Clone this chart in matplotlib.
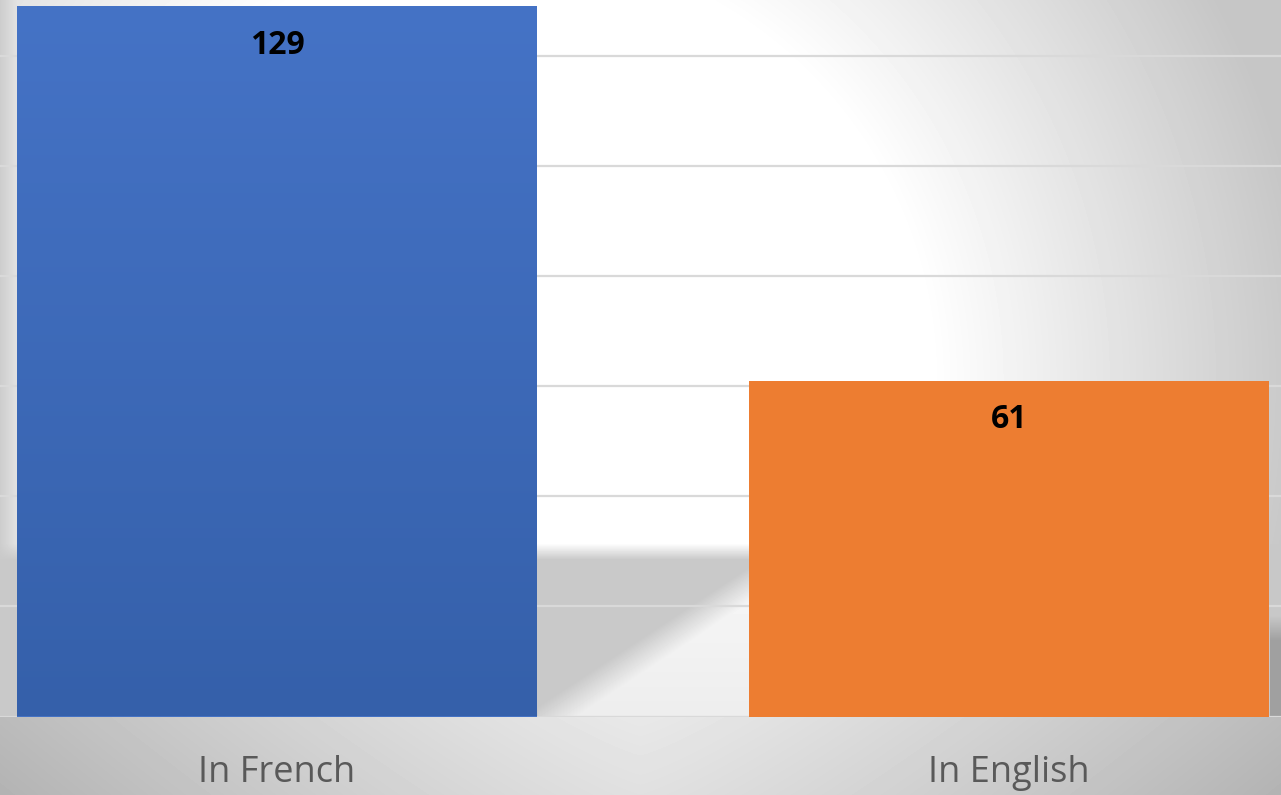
import numpy as np
import matplotlib.pyplot as plt
from matplotlib.colors import LinearSegmentedColormap

categories = ["In French", "In English"]
counts = [129, 61]

W, H = 1281, 795

# soft grey backdrop, like the office chart style
yy, xx = np.mgrid[0:H, 0:W].astype(float)
r = np.hypot(xx - 500, yy - 380)
bg = 255 - np.clip((r - 430) / 380, 0, 1) * 57
bg = np.minimum(bg, 205 + np.clip(xx / 40, 0, 1) * 50)

# floor shadow between the bars
floor = (yy > 543) & (yy < 717)
shade = np.clip((yy - 543) / 16, 0, 1)
bg = np.where(floor, bg - shade * (bg - 201), bg)
d = yy - (707 - 0.66 * (xx - 537))
light = np.clip(d / 35, 0, 1) * ((xx > 537) & (xx < 760))
bg = np.where(floor, bg + light * (44 - 8 * (yy - 600) / 116), bg)
right = floor & (xx > 1269)
dark = np.clip((yy - 615) / 25, 0, 1)
bg = np.where(right, 200 - 40 * dark, bg)

# strip under the axis
bottom = yy >= 717
strip = 232 - 45 * (np.abs(xx - 640) / 640) ** 1.2 - 8 * (yy - 717) / 78
bg = np.where(bottom, strip, bg)

fig = plt.figure(figsize=(W / 100, H / 100), dpi=100)
bax = fig.add_axes([0, 0, 1, 1])
bax.imshow(bg, cmap="gray", vmin=0, vmax=255, aspect="auto", interpolation="bilinear")
bax.axis("off")

ax = fig.add_axes([0, 78.5 / H, 1, 716.5 / H])
ax.patch.set_alpha(0)
x = np.arange(len(categories))
bars = ax.bar(x, counts, width=0.71, color=["#4472C4", "#ED7D31"], zorder=2)

# blue bar has a slight vertical gradient
blue = LinearSegmentedColormap.from_list("blue", ["#3560AA", "#4573C6"])
b = bars[0]
grad = ax.imshow(np.linspace(1, 0, 256).reshape(-1, 1), cmap=blue, aspect="auto",
                 extent=[b.get_x(), b.get_x() + b.get_width(), 0, b.get_height()], zorder=3)
grad.set_clip_path(b)

for xi, v in zip(x, counts):
    ax.annotate(str(v), xy=(xi, v), xytext=(0, -34.5), textcoords="offset points",
                ha="center", va="baseline", fontsize=23, fontweight="bold",
                family="Open Sans", color="black", zorder=4)

ax.set_xlim(-277 / 732, 1 + 272 / 732)
ax.set_ylim(0, 130.1)
ax.set_yticks(range(0, 121, 20))
ax.yaxis.grid(True, color="#d9d9d9", lw=1.6)
ax.set_axisbelow(True)
ax.set_xticks(x)
ax.set_xticklabels(categories, fontsize=26, family="Open Sans", color="#595959")
ax.tick_params(length=0, pad=28, labelleft=False)
for s in ax.spines.values():
    s.set_visible(False)

fig.savefig("out.png", dpi=100)
